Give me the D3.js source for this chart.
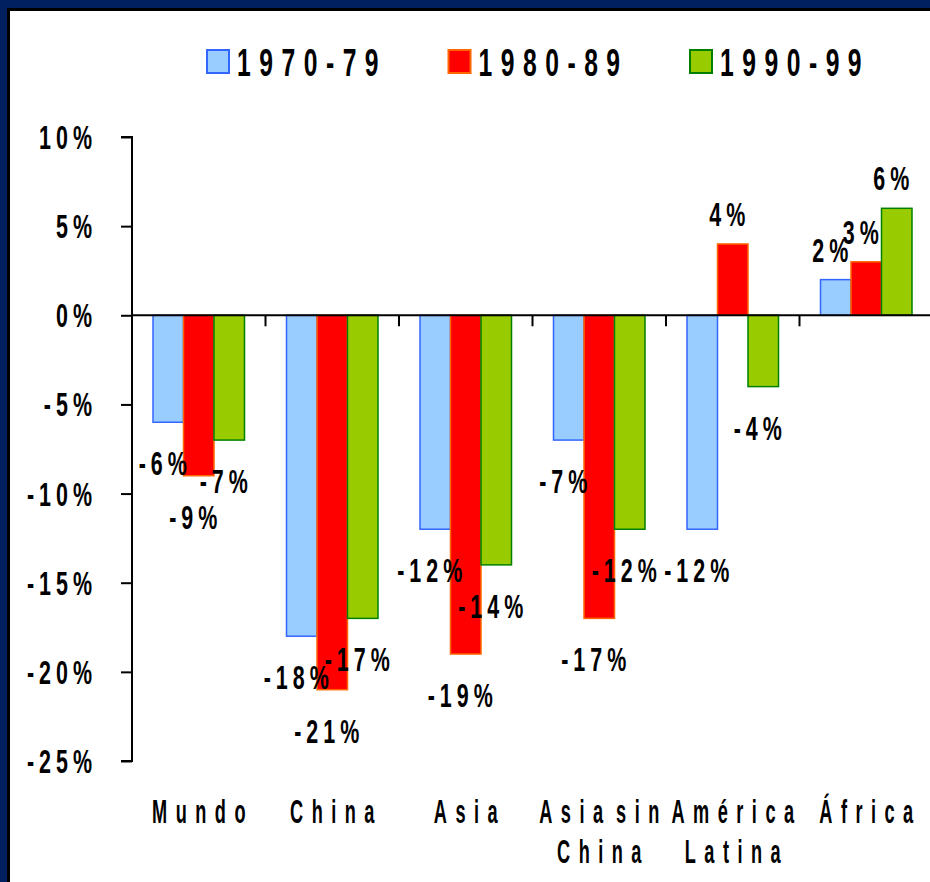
<!DOCTYPE html>
<html>
<head>
<meta charset="utf-8">
<script src="https://cdn.jsdelivr.net/npm/d3@7"></script>
<style>
  html, body { margin: 0; padding: 0; background: #002060; }
  svg { display: block; }
  text { font-family: "Liberation Sans", Arial, sans-serif; font-weight: bold; fill: #000; }
</style>
</head>
<body>
<div id="chart"></div>
<script>
// ---- data ----
const categories = ['Mundo', 'China', 'Asia', 'Asia sin China', 'América Latina', 'África'];
const catLines = [['Mundo'], ['China'], ['Asia'], ['Asia sin', 'China'], ['América', 'Latina'], ['África']];
const series = ['1970-79', '1980-89', '1990-99'];
const v1970 = [-6, -18, -12, -7, -12, 2];
const v1980 = [-9, -21, -19, -17, 4, 3];
const v1990 = [-7, -17, -14, -12, -4, 6];
const yTicks = [-25, -20, -15, -10, -5, 0, 5, 10];

const fills = ['#99CCFF', '#FF0000', '#99CC00'];
const strokes = ['#3366FF', '#FF6600', '#008000'];

const width = 930, height = 882;
const values = [v1970, v1980, v1990];

const svg = d3.select('#chart').append('svg')
  .attr('width', width).attr('height', height);

// frame: navy background, black edge, white panel
svg.append('rect').attr('width', width).attr('height', height).attr('fill', '#002060');
svg.append('rect').attr('x', 7).attr('y', 8).attr('width', width).attr('height', height).attr('fill', '#000');
svg.append('rect').attr('x', 10).attr('y', 11).attr('width', width).attr('height', height).attr('fill', '#fff');

// scales
const y = d3.scaleLinear().domain([-25, 10]).range([761, 137]);
const x0 = d3.scaleBand().domain(categories).range([132, 933]).padding(0);
const x1 = d3.scaleBand().domain(series).range([21, x0.bandwidth() - 21]).padding(0);

// squeezed, spaced-out text like the original
function label(g, txt, x, yy, o) {
  const anchor = o.anchor || 'middle';
  const trail = anchor === 'middle' ? o.ls / 2 : (anchor === 'end' ? o.ls : 0);
  g.append('text')
    .attr('transform', `translate(${x + trail},${yy}) scale(${o.sx},1)`)
    .attr('text-anchor', anchor)
    .attr('font-size', o.size)
    .attr('letter-spacing', o.ls / o.sx)
    .attr('word-spacing', (o.ws || 0) / o.sx)
    .text(txt);
}
const tickStyle = { size: 33, sx: 0.65, ls: 5, anchor: 'end' };
const dataStyle = { size: 33, sx: 0.65, ls: 5 };
const catStyle = { size: 33, sx: 0.55, ls: 8.5, ws: -9 };
const legStyle = { size: 38, sx: 0.65, ls: 8.5, anchor: 'start' };

// y axis
const yAxis = d3.axisLeft(y).tickValues(yTicks).tickSize(11).tickFormat('');
const gy = svg.append('g').attr('transform', 'translate(132,0)').call(yAxis);
gy.select('.domain').attr('d', `M-11,${y(10)}H0V${y(-25)}H-11`).attr('stroke', '#000').attr('stroke-width', 2);
gy.selectAll('.tick line').attr('stroke', '#000').attr('stroke-width', 2);
yTicks.forEach(t => label(svg, t + '%', 92, y(t) + 12, tickStyle));

// bars
const groups = svg.append('g').selectAll('g')
  .data(categories)
  .join('g')
  .attr('transform', d => `translate(${x0(d)},0)`);

groups.selectAll('rect')
  .data((c, ci) => series.map((s, si) => ({ s, si, v: values[si][ci] })))
  .join('rect')
  .attr('x', d => x1(d.s))
  .attr('width', x1.bandwidth())
  .attr('y', d => y(Math.max(0, d.v)))
  .attr('height', d => Math.abs(y(d.v) - y(0)))
  .attr('fill', d => fills[d.si])
  .attr('stroke', d => strokes[d.si])
  .attr('stroke-width', 1.5);

// x axis at zero
const xAxis = d3.axisBottom(x0).tickSize(0).tickFormat('');
const gx = svg.append('g').attr('transform', `translate(0,${y(0)})`).call(xAxis);
gx.select('.domain').attr('d', `M132,0H933`).attr('stroke', '#000').attr('stroke-width', 2);
gx.selectAll('.tick').remove();
categories.slice(1).forEach(c => {
  gx.append('line').attr('x1', x0(c)).attr('x2', x0(c)).attr('y1', 0).attr('y2', 11)
    .attr('stroke', '#000').attr('stroke-width', 2);
});

// data labels
categories.forEach((c, ci) => {
  series.forEach((s, si) => {
    const v = values[si][ci];
    const cx = x0(c) + x1(s) + x1.bandwidth() / 2 - 5.5;
    const by = v < 0 ? y(v) + 53 : y(v) - 18;
    label(svg, v + '%', cx, by, dataStyle);
  });
});

// category labels
categories.forEach((c, ci) => {
  const cx = x0(c) + x0.bandwidth() / 2;
  catLines[ci].forEach((ln, li) => label(svg, ln, cx, 823 + li * 40, catStyle));
});

// legend
series.forEach((s, i) => {
  const lx = 207 + i * 241.5;
  svg.append('rect').attr('x', lx).attr('y', 50).attr('width', 22).attr('height', 23)
    .attr('fill', fills[i]).attr('stroke', strokes[i]).attr('stroke-width', 2);
  label(svg, s, lx + 30, 76, legStyle);
});
</script>
</body>
</html>
